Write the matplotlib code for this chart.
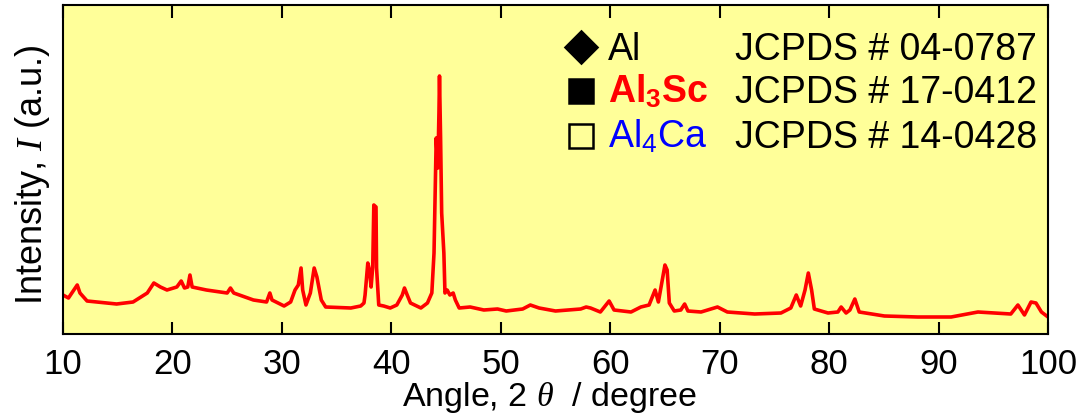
import matplotlib
matplotlib.use("Agg")
import matplotlib.pyplot as plt
from matplotlib.lines import Line2D

plt.rcParams['font.family'] = ['Liberation Sans', 'DejaVu Sans']
plt.rcParams['mathtext.fontset'] = 'custom'
plt.rcParams['mathtext.rm'] = 'Liberation Sans'
plt.rcParams['mathtext.it'] = 'Liberation Serif:italic'
plt.rcParams['mathtext.bf'] = 'Liberation Sans:bold'

# ---- data ----
angle = [10.0, 10.5, 11.3, 11.55, 12.2, 14.9, 16.4, 17.7, 18.3, 18.9,
         19.5, 20.4, 20.8, 21.1, 21.4, 21.6, 21.8, 23.1, 25.0, 25.3,
         25.6, 27.4, 28.6, 28.9, 29.1, 30.2, 30.8, 31.2, 31.5, 31.75,
         31.9, 32.2, 32.6, 32.95, 33.2, 33.6, 34.0, 36.3, 37.2, 37.5,
         37.6, 37.85, 38.0, 38.15, 38.3, 38.4, 38.6, 38.65, 38.85, 39.3,
         39.9, 40.5, 41.0, 41.2, 41.45, 41.75, 42.7, 43.3, 43.7, 43.9,
         44.05, 44.1, 44.25, 44.35, 44.4, 44.5, 44.6, 44.8, 44.9, 45.1,
         45.35, 45.65, 45.85, 46.2, 47.2, 48.45, 49.7, 50.5, 52.0, 52.7,
         53.5, 55.0, 57.3, 57.8, 58.2, 59.1, 59.9, 60.35, 61.9, 62.8,
         63.55, 64.1, 64.4, 64.8, 65.0, 65.2, 65.4, 65.85, 66.45, 66.8,
         67.1, 68.3, 69.8, 70.7, 73.2, 75.6, 76.5, 77.0, 77.4, 77.8,
         78.1, 78.4, 78.65, 79.9, 80.8, 81.1, 81.55, 81.9, 82.35, 82.75,
         85.05, 88.1, 91.15, 93.6, 96.6, 97.25, 97.85, 98.45, 98.9, 99.4,
         100.0]
intensity = [39, 36, 49, 41, 33, 30, 32, 41, 51, 47,
             44, 47, 53, 46, 47, 59, 47, 44, 41, 46,
             41, 34, 32, 41, 34, 28, 32, 44, 49, 66,
             44, 29, 41, 66, 57, 34, 27, 26, 28, 31,
             39, 71, 64, 47, 67, 129, 127, 66, 29, 28,
             26, 29, 39, 46, 39, 31, 26, 31, 41, 81,
             167, 196, 166, 221, 258, 196, 121, 81, 41, 44,
             39, 41, 34, 26, 27, 24, 25, 23, 25, 29,
             26, 23, 25, 27, 26, 22, 33, 24, 22, 27,
             29, 44, 32, 57, 69, 64, 31, 23, 24, 30,
             23, 22, 27, 22, 20, 21, 26, 39, 28, 44,
             61, 44, 25, 21, 22, 27, 21, 24, 35, 22,
             18, 17, 17, 22, 20, 29, 19, 32, 31, 22,
             17]
xticks = [10, 20, 30, 40, 50, 60, 70, 80, 90, 100]
phases = ["Al", "Al$_\\mathbf{3}$Sc", "Al$_\\mathrm{4}$Ca"]
phase_colors = ["black", "red", "blue"]
phase_weights = ["normal", "bold", "normal"]
phase_markers = ["D", "s", "s"]
phase_fill = ["black", "black", "none"]
jcpds = ["JCPDS # 04-0787", "JCPDS # 17-0412", "JCPDS # 14-0428"]

W, H = 1083, 419
fig = plt.figure(figsize=(W / 100, H / 100), dpi=100)
L, R, T, B = 63, 1048, 5, 334
ax = fig.add_axes([L / W, 1 - B / H, (R - L) / W, (B - T) / H])
ax.set_facecolor('#FFFF99')

ax.plot(angle, intensity, color='#FF0000', lw=2.6, solid_joinstyle='round')
ax.set_xlim(10, 100)
ax.set_ylim(0, 329)
ax.set_xticks(xticks)
ax.set_xticklabels([str(t) for t in xticks], fontsize=25)
ax.set_yticks([])
ax.tick_params(axis='x', direction='in', top=True, bottom=True,
               length=9, width=1.5, pad=10, colors='black')
for s in ax.spines.values():
    s.set_linewidth(1.5)
    s.set_color('black')

ax.set_ylabel("Intensity, $I$ (a.u.)", fontsize=26)
ax.yaxis.set_label_coords(-0.011, (B - 175) / (B - T))

fig.text(550 / W, 1 - 406 / H, "Angle, 2 $\\theta$  / degree", fontsize=24.5,
         ha='center', va='baseline')

# legend block
rows_y = [47, 91.5, 136]
base_y = [60, 103, 148]
msizes = [16, 17.5, 17.5]
for i in range(3):
    fig.add_artist(Line2D([581 / W], [1 - rows_y[i] / H], marker=phase_markers[i],
                          markersize=msizes[i], markerfacecolor=phase_fill[i],
                          markeredgecolor='black', markeredgewidth=1.8,
                          linestyle='none', transform=fig.transFigure))
    fig.text(608 / W, 1 - base_y[i] / H, phases[i], fontsize=27,
             color=phase_colors[i], fontweight=phase_weights[i],
             ha='left', va='baseline')
    fig.text(735 / W, 1 - base_y[i] / H, jcpds[i], fontsize=27,
             color='black', ha='left', va='baseline')

fig.savefig("out.png", dpi=100, facecolor='white')
